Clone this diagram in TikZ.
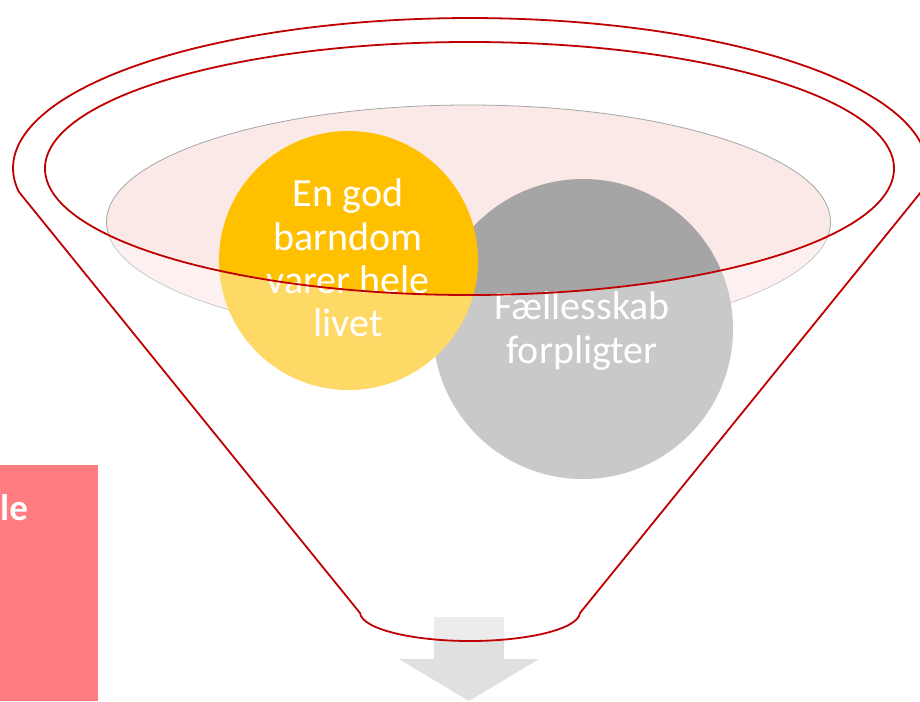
\documentclass[tikz,border=0pt]{standalone}
\usepackage{fontspec}
\setmainfont{Carlito}
\definecolor{rimred}{HTML}{C00000}
\definecolor{yellowc}{HTML}{FFC000}
\definecolor{grayc}{HTML}{A5A5A5}
\definecolor{liquidc}{HTML}{FBE9E7}
\definecolor{liquidline}{HTML}{A6A6A6}
\definecolor{boxpink}{HTML}{FF7C80}
\definecolor{arrowc}{HTML}{E0E0E0}
\tikzset{
  rim/.style={draw=rimred, line width=1.8pt},
  ball/.style={circle, inner sep=0pt},
  balltext/.style={inner sep=0pt, text=white, align=center, font=\fontsize{40}{43.3}\selectfont},
}
\begin{document}
\begin{tikzpicture}[x=1pt,y=-1pt,line join=round]
\useasboundingbox (0,0) rectangle (920,701);
\clip (0,0) rectangle (920,701);
\fill[white] (0,0) rectangle (920,701);
\coordinate (ic) at (469.5,168.5);
\coordinate (pc) at (468.5,222);
\coordinate (A) at (18.6,191.5);
\coordinate (B) at (360,613);
\coordinate (M) at (470,641);
\coordinate (C) at (580,613);
\coordinate (D) at (921.4,191.5);
% liquid surface
\draw[fill=liquidc, draw=liquidline, line width=0.8pt] (pc) ellipse [x radius=362, y radius=117];
% circles
\node[ball, fill=grayc, minimum size=300pt] (fc) at (583,329) {};
\node[ball, fill=yellowc, minimum size=259pt] (gb) at (348.5,260.5) {};
% arrow
\fill[arrowc] (434,617) -- (504,617) -- (504,659) -- (539,659) -- (469,701) -- (399,659) -- (434,659) -- cycle;
% funnel body overlay
\path[fill=white, fill opacity=0.4, even odd rule]
  (A) -- (B) .. controls (362,629) and (412,641) .. (M) .. controls (528,641) and (578,629) .. (C)
  -- (D) arc[start angle=9, end angle=-189, x radius=457, y radius=150] -- cycle
  (ic) ellipse [x radius=424.5, y radius=126.5];
% texts
\node[balltext] (gbt) at (348,258) {En god\\barndom\\varer hele\\livet};
\node[balltext] (fct) at (582,331) {Fællesskab\\forpligter};
% funnel outline
\draw[rim] (A) -- (B) .. controls (362,629) and (412,641) .. (M) .. controls (528,641) and (578,629) .. (C)
  -- (D) arc[start angle=9, end angle=-189, x radius=457, y radius=150] -- cycle;
\draw[rim] (ic) ellipse [x radius=424.5, y radius=126.5];
% side box
\node[fill=boxpink, minimum width=98pt, minimum height=236pt, anchor=north west, inner sep=0pt] (box) at (0,465) {};
\node[anchor=base west, inner sep=0pt, text=white, font=\bfseries\fontsize{37}{44}\selectfont] (boxt) at (0,520) {le};
\end{tikzpicture}
\end{document}
